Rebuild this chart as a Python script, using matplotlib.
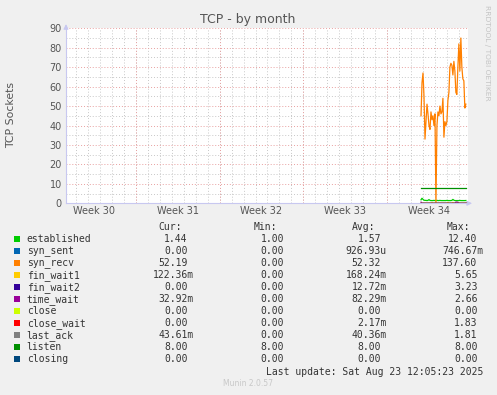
import matplotlib
matplotlib.use("Agg")
import matplotlib.pyplot as plt
import numpy as np

# ---------------- data ----------------
week_labels = ["Week 30", "Week 31", "Week 32", "Week 33", "Week 34"]
week_mid_days = [3.5, 10.5, 17.5, 24.5, 31.5]      # days since Mon Jul 21
week_start_days = [7, 14, 21, 28]
x_start_day = 1.15
x_end_day = 34.77

data_start_day = 30.84
step_days = 2 / 24  # 2-hour samples

syn_recv = [45, 62, 67, 55, 33, 42, 51, 46, 40, 38, 47, 43, 45, 40, 46, 0,
            40, 47, 45, 50, 46, 47, 54, 34, 42, 40, 42, 53, 57, 70, 72, 71,
            66, 73, 68, 57, 56, 70, 82, 68, 85, 70, 64, 63, 49, 51]
established = [1.8, 2.6, 2.0, 1.6, 1.5, 1.5, 1.4, 1.5, 1.9, 1.5, 1.4, 1.4,
               1.4, 1.5, 1.4, 1.4, 1.5, 1.4, 1.4, 1.5, 1.4, 1.4, 1.4, 1.4,
               1.4, 1.4, 1.5, 1.4, 1.4, 1.4, 1.4, 1.5, 2.0, 1.6, 1.4, 1.4,
               1.4, 1.4, 1.4, 1.5, 1.4, 1.4, 1.4, 1.4, 1.4, 1.44]
listen = [8.0] * 46
fin_wait1 = [0, 0, 0, 0, 0, 0, 0, 0, 0, 0, 0, 0.4, 0, 0, 0, 0, 0, 0, 0, 0,
             0, 0, 0, 0, 0, 0, 0, 0.5, 0, 0, 0, 0, 0.5, 0, 0, 0, 0, 0.4, 0,
             0, 0, 0, 0, 0, 0, 0.12]
time_wait = [0.6, 0, 0, 0, 0, 0, 0, 0, 0, 0, 0, 0, 0, 0, 0, 0, 0, 0, 0, 0,
             0, 0, 0, 0, 0, 0, 0, 0, 0, 0, 0, 0, 0, 0, 0, 0.6, 0.6, 0.5, 0,
             0, 0, 0, 0, 0, 0, 0.03]
zero_series = [0.0] * 46

legend_names = ["established", "syn_sent", "syn_recv", "fin_wait1", "fin_wait2",
                "time_wait", "close", "close_wait", "last_ack", "listen", "closing"]
legend_colors = ["#00CC00", "#0066B3", "#FF8000", "#FFCC00", "#330099",
                 "#990099", "#CCFF00", "#FF0000", "#808080", "#008F00", "#00487D"]
cur_vals = ["1.44", "0.00", "52.19", "122.36m", "0.00", "32.92m", "0.00",
            "0.00", "43.61m", "8.00", "0.00"]
min_vals = ["1.00", "0.00", "0.00", "0.00", "0.00", "0.00", "0.00", "0.00",
            "0.00", "8.00", "0.00"]
avg_vals = ["1.57", "926.93u", "52.32", "168.24m", "12.72m", "82.29m", "0.00",
            "2.17m", "40.36m", "8.00", "0.00"]
max_vals = ["12.40", "746.67m", "137.60", "5.65", "3.23", "2.66", "0.00",
            "1.83", "1.81", "8.00", "0.00"]

series_data = {
    "established": established, "syn_sent": zero_series, "syn_recv": syn_recv,
    "fin_wait1": fin_wait1, "fin_wait2": zero_series, "time_wait": time_wait,
    "close": zero_series, "close_wait": zero_series, "last_ack": zero_series,
    "listen": listen, "closing": zero_series,
}

# ---------------- figure ----------------
W, H = 497, 395
fig = plt.figure(figsize=(W / 100, H / 100), dpi=100, facecolor="#F0F0F0")
def fx(px): return px / W
def fy(py): return 1 - py / H

ax = fig.add_axes([fx(66), fy(203.3), fx(468) - fx(66), fy(28.3) - fy(203.3)])
ax.set_facecolor("white")
ax.set_xlim(x_start_day, x_end_day)
ax.set_ylim(0, 90)

x = data_start_day + step_days * np.arange(len(syn_recv))

# grid
ax.set_yticks(np.arange(0, 91, 10))
ax.set_yticks(np.arange(0, 91, 5), minor=True)
ax.set_xticks(week_mid_days)
ax.set_xticklabels(week_labels)
ax.set_xticks(np.arange(2, 35, 1), minor=True)
ax.grid(which="minor", color="#C8C8C8", linestyle=(0, (1, 2)), linewidth=0.7)
ax.grid(which="major", axis="y", color="#E8A0A0", linestyle=(0, (1, 2)), linewidth=0.7)
for d in week_start_days:
    ax.axvline(d, color="#E8A0A0", linestyle=(0, (1, 2)), linewidth=0.7, zorder=0.6)
ax.set_axisbelow(True)

ax.tick_params(which="both", length=0, labelsize=7, colors="#555555", pad=3)
ax.tick_params(axis="x", pad=2)
for lab in ax.get_yticklabels() + ax.get_xticklabels():
    lab.set_color("#555555")

for sp in ["top", "right"]:
    ax.spines[sp].set_visible(False)
for sp in ["left", "bottom"]:
    ax.spines[sp].set_color("#C8C8F0")
    ax.spines[sp].set_linewidth(0.8)

# arrows
ax.annotate("", xy=(1.017, 0), xycoords="axes fraction", xytext=(0.99, 0),
            arrowprops=dict(arrowstyle="-|>", color="#C8C8F0", lw=0.8,
                            mutation_scale=7), annotation_clip=False)
ax.annotate("", xy=(0, 1.04), xycoords="axes fraction", xytext=(0, 0.99),
            arrowprops=dict(arrowstyle="-|>", color="#C8C8F0", lw=0.8,
                            mutation_scale=7), annotation_clip=False)

# series
for name, col in zip(legend_names, legend_colors):
    ax.plot(x, series_data[name], color=col, linewidth=0.9, zorder=3,
            solid_joinstyle="round")

# texts
fig.text(fx(248), fy(19), "TCP - by month", ha="center", va="center",
         fontsize=9, color="#555555", family="DejaVu Sans")
fig.text(fx(11), fy(115.5), "TCP Sockets", ha="center", va="center",
         rotation=90, fontsize=7.8, color="#555555")
fig.text(fx(487), fy(5), "RRDTOOL / TOBI OETIKER", ha="center", va="top",
         rotation=270, fontsize=5.4, color="#C4C4C4")

mono = "DejaVu Sans Mono"
fs = 7
cw = 5.85
tcol = "#333333"
header_y = 227.3
fig.text(fx(158), fy(header_y), "Cur:", ha="left", va="center", fontsize=fs, family=mono, color=tcol)
fig.text(fx(254), fy(header_y), "Min:", ha="left", va="center", fontsize=fs, family=mono, color=tcol)
fig.text(fx(351.7), fy(header_y), "Avg:", ha="left", va="center", fontsize=fs, family=mono, color=tcol)
fig.text(fx(446.7), fy(header_y), "Max:", ha="left", va="center", fontsize=fs, family=mono, color=tcol)

col_edges = [193.5, 290.0, 387.0, 483.3]
row0 = 239.3
dy = 12.0
for i, name in enumerate(legend_names):
    yy = row0 + i * dy
    fig.patches.append(plt.Rectangle((fx(14), fy(yy + 3)), fx(6), fy(yy - 3) - fy(yy + 3),
                                     transform=fig.transFigure, facecolor=legend_colors[i],
                                     edgecolor="none"))
    fig.text(fx(26.7), fy(yy), name, ha="left", va="center", fontsize=fs, family=mono, color=tcol)
    for edge, vals in zip(col_edges, [cur_vals, min_vals, avg_vals, max_vals]):
        v = vals[i]
        xe = edge if v[-1].isalpha() else edge - cw
        fig.text(fx(xe), fy(yy), v, ha="right", va="center", fontsize=fs, family=mono, color=tcol)

fig.text(fx(483), fy(371.7), "Last update: Sat Aug 23 12:05:23 2025", ha="right",
         va="center", fontsize=fs, family=mono, color=tcol)
fig.text(fx(248), fy(384), "Munin 2.0.57", ha="center", va="center",
         fontsize=5.5, color="#C8C8C8")

fig.savefig("out.png", dpi=100, facecolor=fig.get_facecolor())
